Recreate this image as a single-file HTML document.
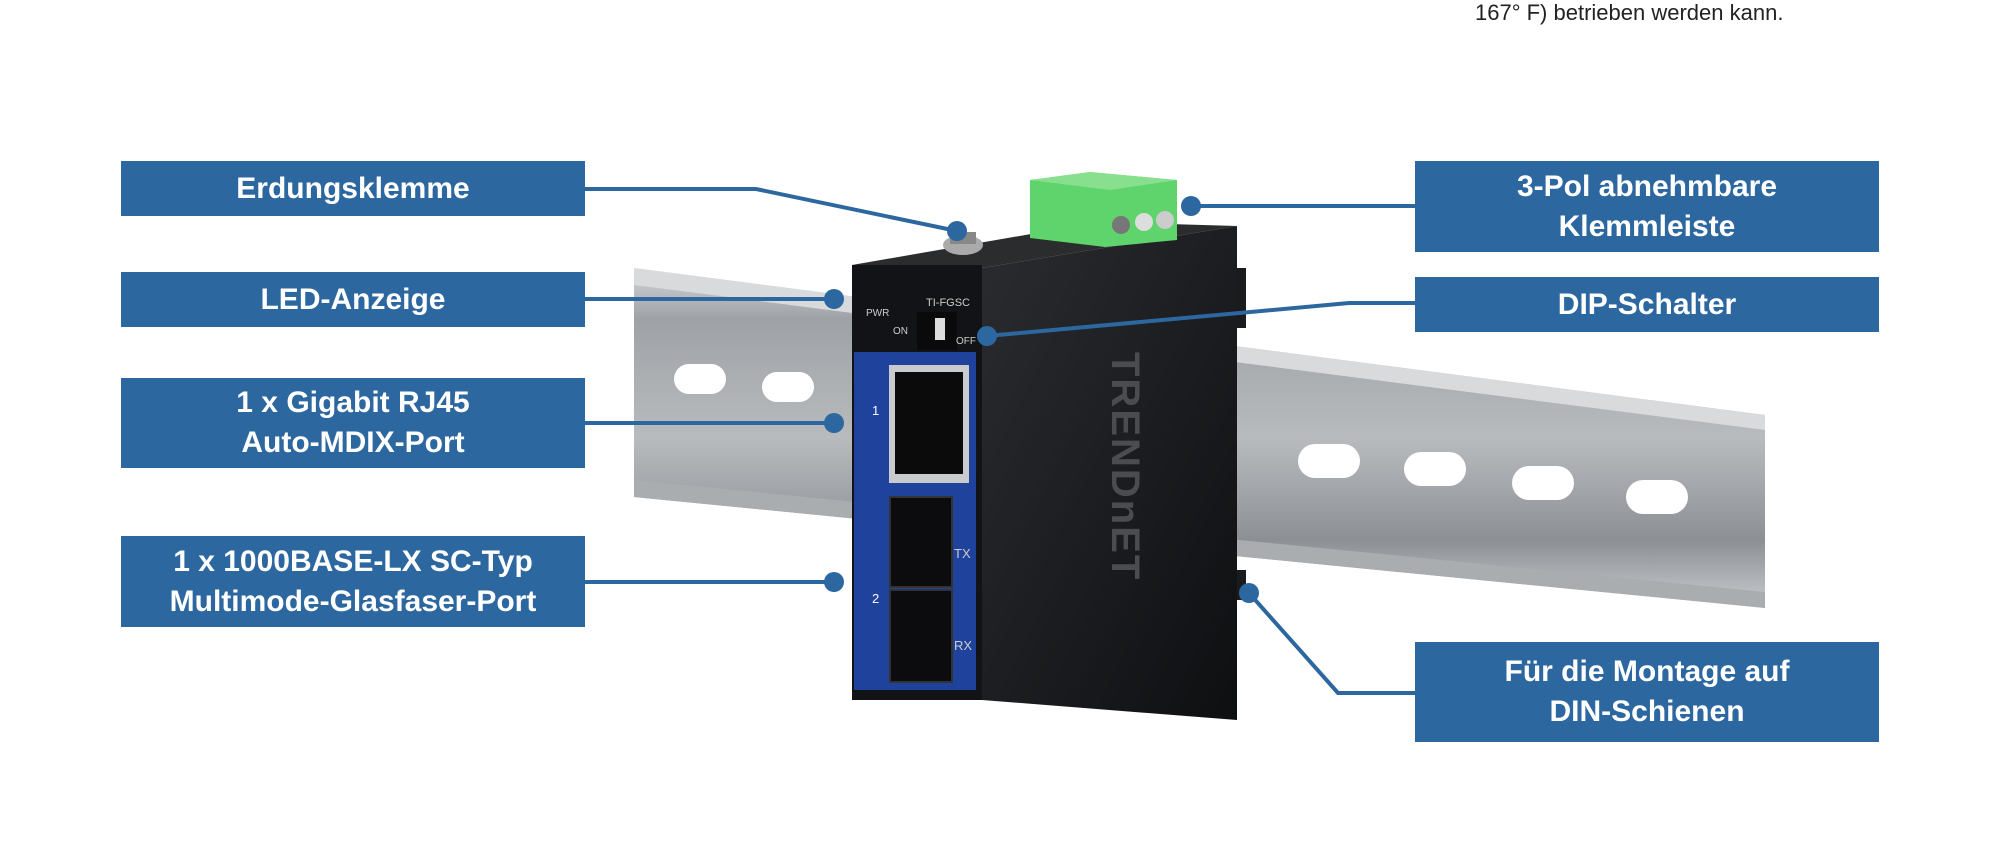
<!DOCTYPE html>
<html><head><meta charset="utf-8"><style>
html,body{margin:0;padding:0;background:#fff;}
body{width:2000px;height:867px;position:relative;overflow:hidden;font-family:"Liberation Sans",sans-serif;}
.box{position:absolute;background:#2d67a0;color:#fff;font-weight:bold;font-size:30px;display:flex;align-items:center;justify-content:center;text-align:center;line-height:40px;}
.top{position:absolute;left:1475px;top:0px;font-size:22px;color:#222;}
svg{position:absolute;left:0;top:0;}
</style></head><body>
<svg width="2000" height="867" viewBox="0 0 2000 867">
<defs>
<linearGradient id="rail" x1="0" y1="0" x2="0" y2="1">
<stop offset="0" stop-color="#d4d7da"/><stop offset="0.15" stop-color="#9ea2a6"/><stop offset="0.5" stop-color="#b8bbbe"/><stop offset="0.8" stop-color="#8c9095"/><stop offset="1" stop-color="#c8cbce"/></linearGradient>
<linearGradient id="side" x1="0" y1="0" x2="1" y2="1"><stop offset="0" stop-color="#2a2c30"/><stop offset="1" stop-color="#0e0f11"/></linearGradient>
</defs>
<polygon points="634,268 1765,415 1765,608 634,497" fill="url(#rail)"/>
<polygon points="634,268 1765,415 1765,430 634,285" fill="#d8dadc"/>
<polygon points="634,480 1765,592 1765,608 634,497" fill="#a9adb0"/>
<g fill="#fff">
<rect x="674" y="364" width="52" height="30" rx="15"/>
<rect x="762" y="372" width="52" height="30" rx="15"/>
<rect x="1298" y="444" width="62" height="34" rx="17"/>
<rect x="1404" y="452" width="62" height="34" rx="17"/>
<rect x="1512" y="466" width="62" height="34" rx="17"/>
<rect x="1626" y="480" width="62" height="34" rx="17"/>
</g>
<rect x="1234" y="268" width="12" height="60" fill="#1a1b1d"/>
<rect x="1234" y="570" width="12" height="30" fill="#1a1b1d"/>
<polygon points="852,265 982,268 1237,226 1100,222" fill="#2a2c2e"/>
<polygon points="982,268 1237,226 1237,720 982,700" fill="url(#side)"/>
<text x="0" y="0" transform="translate(1112,352) rotate(90)" font-family="Liberation Sans" font-weight="bold" font-size="40" fill="#4a4c50" letter-spacing="2">TRENDnET</text>
<rect x="852" y="265" width="130" height="435" fill="#121316"/>
<rect x="854" y="352" width="122" height="338" fill="#1f429c"/>
<rect x="889" y="365" width="80" height="118" fill="#c9cbcc"/>
<rect x="895" y="372" width="68" height="102" fill="#0b0b0c"/>
<rect x="890" y="497" width="62" height="90" fill="#0c0c0e" stroke="#333" stroke-width="2"/>
<rect x="890" y="590" width="62" height="92" fill="#0c0c0e" stroke="#333" stroke-width="2"/>
<rect x="917" y="312" width="40" height="38" fill="#0a0a0a"/>
<rect x="935" y="318" width="10" height="22" fill="#ddd"/>
<g font-family="Liberation Sans" fill="#ccc" font-size="10">
<text x="866" y="316">PWR</text><text x="893" y="334">ON</text><text x="926" y="306" font-size="11">TI-FGSC</text><text x="956" y="344">OFF</text>
<text x="872" y="415" font-size="13" fill="#fff">1</text><text x="872" y="603" font-size="13" fill="#fff">2</text>
<text x="954" y="558" font-size="13">TX</text><text x="954" y="650" font-size="13">RX</text></g>
<polygon points="1030,180 1090,172 1177,180 1177,240 1105,247 1030,238" fill="#5fd46c"/>
<polygon points="1030,180 1090,172 1177,180 1110,190" fill="#88e08f"/>
<circle cx="1121" cy="225" r="9" fill="#777"/><circle cx="1144" cy="222" r="9" fill="#ddd"/><circle cx="1165" cy="220" r="9" fill="#ccc"/>
<ellipse cx="963" cy="245" rx="20" ry="10" fill="#aaa"/><rect x="950" y="232" width="26" height="12" fill="#888"/>
<g stroke="#2d67a0" stroke-width="4" fill="none">
<polyline points="585,189 756,189 957,231"/>
<line x1="585" y1="299" x2="834" y2="299"/>
<line x1="585" y1="423" x2="834" y2="423"/>
<line x1="585" y1="582" x2="834" y2="582"/>
<line x1="1191" y1="206" x2="1415" y2="206"/>
<polyline points="987,336 1349,303 1415,303"/>
<polyline points="1249,593 1338,693 1415,693"/>
</g>
<g fill="#2d67a0">
<circle cx="957" cy="231" r="10"/><circle cx="834" cy="299" r="10"/><circle cx="834" cy="423" r="10"/><circle cx="834" cy="582" r="10"/>
<circle cx="1191" cy="206" r="10"/><circle cx="987" cy="336" r="10"/><circle cx="1249" cy="593" r="10"/>
</g>
</svg>
<div class="top">167° F) betrieben werden kann.</div>
<div class="box" style="left:121px;top:161px;width:464px;height:55px;">Erdungsklemme</div>
<div class="box" style="left:121px;top:272px;width:464px;height:55px;">LED-Anzeige</div>
<div class="box" style="left:121px;top:378px;width:464px;height:90px;">1 x Gigabit RJ45<br>Auto-MDIX-Port</div>
<div class="box" style="left:121px;top:536px;width:464px;height:91px;">1 x 1000BASE-LX SC-Typ<br>Multimode-Glasfaser-Port</div>
<div class="box" style="left:1415px;top:161px;width:464px;height:91px;">3-Pol abnehmbare<br>Klemmleiste</div>
<div class="box" style="left:1415px;top:277px;width:464px;height:55px;">DIP-Schalter</div>
<div class="box" style="left:1415px;top:642px;width:464px;height:100px;">Für die Montage auf<br>DIN-Schienen</div>
</body></html>
